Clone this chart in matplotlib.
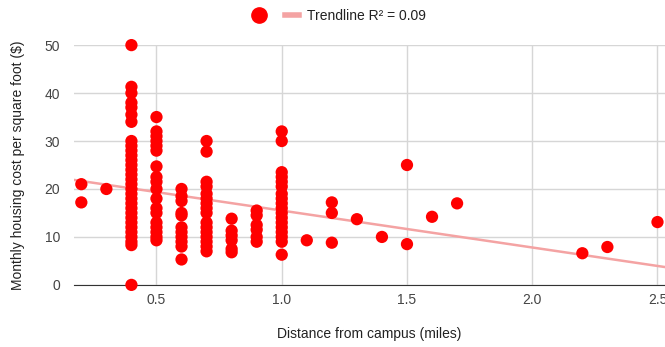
import matplotlib
matplotlib.use("Agg")
import matplotlib.pyplot as plt
from matplotlib.lines import Line2D

plt.rcParams["font.family"] = ["Liberation Sans", "DejaVu Sans"]

# distance from campus (miles) -> cost values
cost_by_distance = {
    0.2: [21, 17.2],
    0.3: [20],
    0.4: [50, 41.3, 40, 38, 37, 35.5, 34, 30, 29, 28, 27, 26, 25, 24, 23, 22,
          21, 20, 19, 18, 17, 16, 15, 14, 13, 12, 11, 10, 9, 8.3, 0],
    0.5: [35, 32, 31, 30, 29, 28, 24.7, 22.5, 21.5, 20, 18, 16, 15, 13, 12,
          11, 10, 9.3],
    0.6: [20, 18.5, 17.5, 15, 14.5, 12, 11, 10, 9, 8, 5.3],
    0.7: [30, 27.8, 21.5, 20.5, 19, 18, 17, 16, 15, 13, 12, 11, 10, 9, 8, 7],
    0.8: [13.8, 11.3, 10.3, 9.3, 7.5, 6.8],
    0.9: [15.5, 14.5, 12.5, 11.5, 10, 9],
    1.0: [32, 30, 23.5, 22.5, 21.5, 20.5, 19, 18, 17, 16, 15, 14, 13, 12,
          11, 10, 9, 6.3],
    1.1: [9.3],
    1.2: [17.2, 15, 8.8],
    1.3: [13.7],
    1.4: [10],
    1.5: [25, 8.5],
    1.6: [14.2],
    1.7: [17],
    2.2: [6.6],
    2.3: [7.9],
    2.5: [13.1],
}

# trendline
trend_slope = -7.7
trend_intercept = 23.2
trend_label = "Trendline R² = 0.09"

x_ticks = [0.5, 1.0, 1.5, 2.0, 2.5]
y_ticks = [0, 10, 20, 30, 40, 50]

distances = []
costs = []
for d, vals in cost_by_distance.items():
    distances += [d] * len(vals)
    costs += vals

fig = plt.figure(figsize=(6.65, 3.47), dpi=100)
ax = fig.add_axes([0.111, 0.179, 0.889, 0.691])

xlim = (0.17, 2.53)
ax.set_xlim(*xlim)
ax.set_ylim(0, 50)

ax.plot(xlim, [trend_intercept + trend_slope * x for x in xlim],
        color="#f4a3a3", linewidth=1.8, zorder=2)
ax.scatter(distances, costs, s=78, color="#ff0000", edgecolors="none",
           zorder=3, clip_on=False)

ax.set_xticks(x_ticks)
ax.set_yticks(y_ticks)
ax.set_xticklabels([f"{t:.1f}" for t in x_ticks])
ax.grid(True, color="#d6d6d6", linewidth=1)
ax.set_axisbelow(True)
for spine in ["top", "right", "left"]:
    ax.spines[spine].set_visible(False)
ax.spines["bottom"].set_color("#333333")
ax.tick_params(length=0, labelsize=10, colors="#444444")
ax.tick_params(axis="y", pad=10)
ax.tick_params(axis="x", pad=6)

ax.set_xlabel("Distance from campus (miles)", fontsize=10, color="#222222",
              labelpad=14)
ax.set_ylabel("Monthly housing cost per square foot ($)", fontsize=10,
              color="#222222", labelpad=14)

handles = [
    Line2D([], [], marker="o", linestyle="none", color="#ff0000",
           markersize=11),
    Line2D([], [], color="#f4a3a3", linewidth=4),
]
fig.legend(handles, ["", trend_label], loc="center", ncol=2,
           bbox_to_anchor=(0.51, 0.955), frameon=False, fontsize=10,
           handlelength=1.0, columnspacing=0.8, handletextpad=0.6,
           labelcolor="#222222")

fig.savefig("out.png", dpi=100)
